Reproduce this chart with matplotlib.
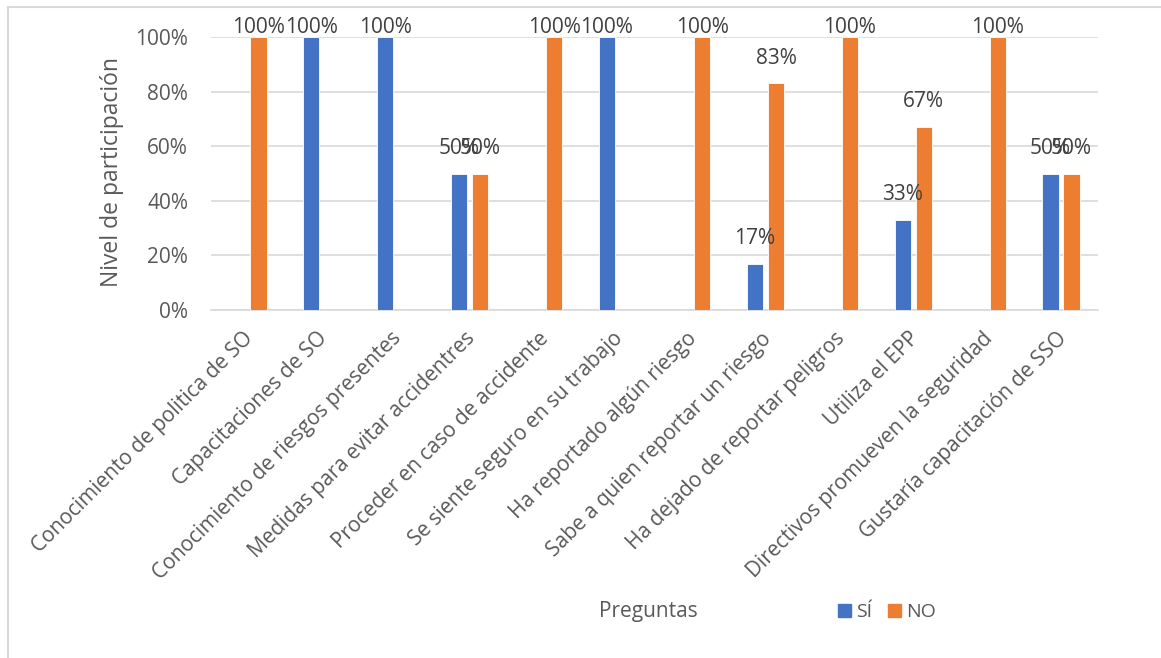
#!/usr/bin/env python3
"""Nivel de participación por pregunta (SÍ / NO), estilo gráfico de Excel."""

import matplotlib
matplotlib.use("Agg")
import matplotlib.pyplot as plt
import matplotlib.transforms as mtransforms
from matplotlib.lines import Line2D
from matplotlib.patches import Patch
from matplotlib.ticker import PercentFormatter

# Datos
preguntas = [
    "Conocimiento de politica de SO",
    "Capacitaciones de SO",
    "Conocimiento de riesgos presentes",
    "Medidas para evitar accidentres",
    "Proceder en caso de accidente",
    "Se siente seguro en su trabajo",
    "Ha reportado algún riesgo",
    "Sabe a quien reportar un riesgo",
    "Ha dejado de reportar peligros",
    "Utiliza el EPP",
    "Directivos promueven la seguridad",
    "Gustaría capacitación de SSO",
]
si = [0, 100, 100, 50, 0, 100, 0, 17, 0, 33, 0, 50]
no = [100, 0, 0, 50, 100, 0, 100, 83, 100, 67, 100, 50]

COLORS = {"SÍ": "#4472C4", "NO": "#ED7D31"}
TEXT = "#595959"
GRID = "#D9D9D9"

plt.rcParams.update({
    "font.family": ["Open Sans", "DejaVu Sans"],
    "text.color": TEXT,
    "axes.labelcolor": TEXT,
    "xtick.color": TEXT,
    "ytick.color": TEXT,
})

W, H = 1161, 658
fig = plt.figure(figsize=(W / 100, H / 100), dpi=100)
ax = fig.add_axes([211 / W, 1 - 310 / H, (1098 - 211) / W, (310 - 37) / H])

x = list(range(len(preguntas)))
width = 0.22
offset = 0.143

for vals, name, sign in [(si, "SÍ", -1), (no, "NO", 1)]:
    xs = [xi + sign * offset for xi in x]
    ax.bar(xs, vals, width, color=COLORS[name], edgecolor="white",
           linewidth=0.6, zorder=3)
    # etiquetas de datos (Excel las limita al área del gráfico)
    for xi, v in zip(xs, vals):
        if v == 0:
            continue
        ax.text(xi, min(v + 9.2, 103.4), f"{v}%", ha="center", va="center",
                fontsize=15, color="#404040", clip_on=False, zorder=4)

ax.set_xlim(-0.5, len(preguntas) - 0.5)
ax.set_ylim(0, 100)
ax.set_yticks(range(0, 101, 20))
ax.yaxis.set_major_formatter(PercentFormatter(decimals=0))
ax.grid(axis="y", color=GRID, linewidth=1.2, zorder=0)
for side in ["top", "right", "left"]:
    ax.spines[side].set_visible(False)
ax.spines["bottom"].set_color(GRID)
ax.spines["bottom"].set_linewidth(1.2)
ax.tick_params(axis="both", length=0)
ax.tick_params(axis="y", pad=16.5, labelsize=15)
ax.tick_params(axis="x", pad=13, labelsize=15)

ax.set_xticks(x)
ax.set_xticklabels(preguntas, rotation=45, ha="right", rotation_mode="anchor")
shift = mtransforms.ScaledTranslation(-5 / 100, 0, fig.dpi_scale_trans)
for lbl in ax.get_xticklabels():
    lbl.set_transform(lbl.get_transform() + shift)

ax.set_ylabel("Nivel de participación", fontsize=16.5)
ax.yaxis.label.set_va("center")
ax.yaxis.set_label_coords((112 - 211) / 887, 0.504)
ax.set_xlabel("Preguntas", fontsize=15)
ax.xaxis.label.set_va("center")
ax.xaxis.set_label_coords((648 - 211) / 887, (310 - 612) / 273)

handles = [Patch(color=COLORS["SÍ"], label="SÍ"), Patch(color=COLORS["NO"], label="NO")]
fig.legend(handles=handles, loc="center", bbox_to_anchor=(887 / W, 1 - 612 / H),
           ncol=2, frameon=False, fontsize=14, handlelength=0.68,
           handleheight=0.68, handletextpad=0.25, columnspacing=0.8)

# marco del gráfico
fig.add_artist(Line2D([8 / W, 8 / W], [1 - 7 / H, 0], color=GRID, linewidth=1.5))
fig.add_artist(Line2D([8 / W, 1], [1 - 7 / H, 1 - 7 / H], color=GRID, linewidth=1.5))

fig.savefig("out.png", dpi=100)
